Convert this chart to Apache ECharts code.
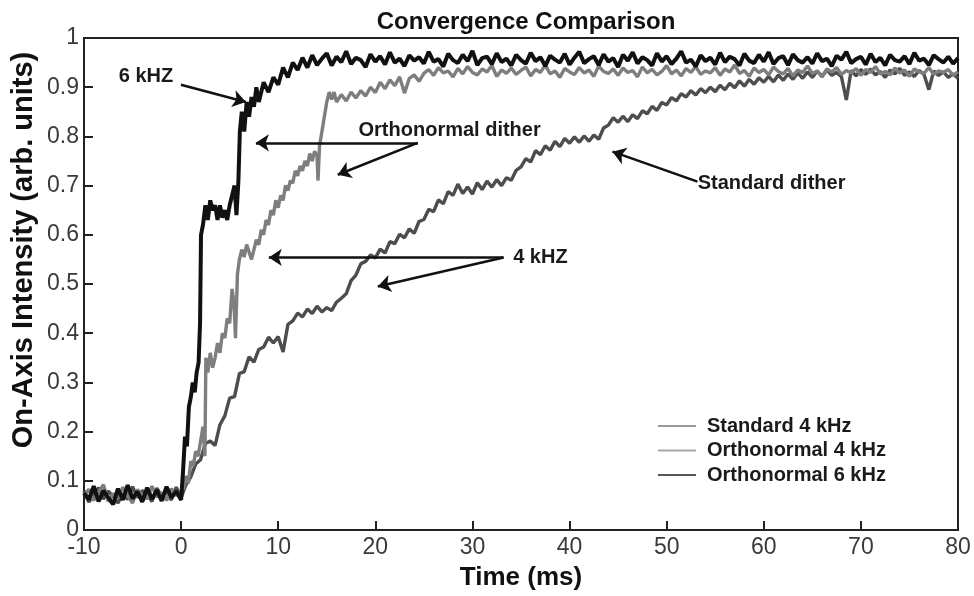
<!DOCTYPE html>
<html><head><meta charset="utf-8">
<script src="https://cdn.jsdelivr.net/npm/echarts@6/dist/echarts.min.js"></script>
<style>html,body{margin:0;padding:0;background:#fff}#c{width:974px;height:596px}</style>
</head><body><div id="c"></div>
<script>
// ---- data ----
const seriesNames = ['Standard 4 kHz', 'Orthonormal 4 kHz', 'Orthonormal 6 kHz'];
const xMin = -10, xMax = 80, xStep = 10;
const yMin = 0, yMax = 1, yStep = 0.1;

// Orthonormal 6 kHz: irregular early part [t, v]
const ortho6Early = [[-10,.075],[-9.5,.062],[-9,.089],[-8.5,.058],[-8,.080],[-7.5,.066],[-7,.052],[-6.5,.084],[-6,.061],[-5.5,.091],[-5,.064],[-4.5,.078],[-4,.057],[-3.5,.086],[-3,.063],[-2.5,.081],[-2,.059],[-1.5,.088],[-1,.066],[-0.5,.079],[0,.061],
[0.2,.12],[0.4,.19],[0.6,.17],[0.8,.25],[1.0,.27],[1.2,.30],[1.4,.28],[1.6,.32],[1.8,.34],[1.95,.42],[2.05,.60],[2.25,.62],[2.5,.66],[2.75,.63],[3.0,.67],[3.25,.65],[3.5,.66],[3.75,.63],[4.0,.66],[4.25,.635],[4.5,.65],[4.75,.63],[5.0,.66],[5.25,.68],[5.5,.70],[5.7,.64],[5.9,.71],[6.05,.81],[6.25,.85],[6.5,.81],[6.75,.87],[7.0,.84],[7.25,.88],[7.5,.86],[7.75,.90],[8.0,.87],[8.5,.91],[9.0,.89],[9.5,.92],[10,.905],[10.5,.94],[11,.92],[11.5,.95],[12,.935],[12.5,.96],[13,.94],[13.5,.965],[14,.945]];
// Orthonormal 6 kHz: values every 0.5 ms from 14.5 to 80
const ortho6LateStart = 14.5;
const ortho6Late = [.958,.969,.944,.962,.951,.973,.947,.960,.955,.941,.967,.952,.963,.946,.971,.950,.958,.943,.965,.954,
.961,.948,.972,.952,.957,.942,.968,.955,.949,.966,.953,.974,.945,.959,.962,.947,.969,.951,.958,.944,
.966,.955,.948,.970,.953,.961,.943,.964,.956,.950,.968,.946,.960,.972,.949,.957,.963,.945,.967,.952,
.959,.941,.966,.954,.971,.948,.961,.955,.944,.969,.952,.963,.947,.958,.973,.950,.956,.942,.965,.953,
.960,.946,.970,.951,.962,.957,.944,.968,.954,.949,.966,.952,.971,.947,.959,.963,.945,.967,.955,.950,
.961,.948,.969,.953,.958,.943,.964,.956,.972,.949,.957,.962,.946,.968,.951,.960,.944,.966,.955,.952,
.963,.947,.970,.954,.958,.945,.965,.957,.950,.962,.948,.959];

// Orthonormal 4 kHz
const ortho4Early = [[-10,.068],[-9.5,.083],[-9,.060],[-8.5,.077],[-8,.092],[-7.5,.058],[-7,.074],[-6.5,.065],[-6,.087],[-5.5,.069],[-5,.055],[-4.5,.082],[-4,.071],[-3.5,.063],[-3,.089],[-2.5,.067],[-2,.076],[-1.5,.060],[-1,.084],[-0.5,.070],[0,.078],
[0.25,.085],[0.5,.11],[0.75,.095],[1.0,.14],[1.25,.13],[1.5,.16],[1.75,.15],[2.0,.18],[2.25,.21],[2.45,.15],[2.55,.35],[2.75,.32],[3.0,.36],[3.25,.33],[3.5,.35],[3.75,.38],[4.0,.36],[4.25,.40],[4.5,.39],[4.75,.43],[5.0,.42],[5.25,.49],[5.45,.46],[5.6,.39],[5.8,.52],[6.0,.55],[6.25,.57],[6.5,.555],[6.75,.58],[7.0,.565],[7.25,.55],[7.5,.57],[7.75,.59],[8.0,.58],[8.25,.61],[8.5,.60],[8.75,.63],[9.0,.62],[9.25,.65],[9.5,.64],[9.75,.67],[10,.655],[10.25,.68],[10.5,.67],[10.75,.70],[11,.69],[11.25,.71],[11.5,.705],[11.75,.73],[12,.72],[12.25,.74],[12.5,.73],[12.75,.75],[13,.74],[13.25,.765],[13.5,.75],[13.75,.77],[14,.76],[14.1,.71],[14.25,.78],[14.5,.81],[14.75,.84],[15,.87],[15.25,.89],[15.5,.875],[15.75,.89],[16,.87]];
const ortho4LateStart = 16.5;
const ortho4Late = [.885,.872,.890,.878,.893,.882,.900,.889,
.910,.897,.915,.903,.921,.888,.918,.925,.912,.928,
.936,.924,.940,.929,.933,.921,.938,.927,.942,.930,
.925,.937,.931,.944,.922,.935,.928,.939,.926,.934,
.941,.923,.936,.930,.945,.927,.933,.920,.938,.931,
.926,.940,.929,.935,.922,.943,.932,.928,.937,.924,
.939,.930,.934,.921,.941,.929,.936,.925,.932,.944,
.927,.935,.923,.938,.930,.942,.926,.933,.929,.940,
.924,.937,.931,.945,.928,.934,.922,.939,.930,.936,
.925,.941,.932,.927,.938,.923,.935,.930,.943,.928,
.933,.921,.937,.931,.940,.926,.934,.929,.938,.924,
.936,.930,.942,.927,.932,.925,.939,.929,.935,.922,
.937,.931,.928,.940,.926,.933,.930,.936,.924,.931];

// Standard 4 kHz
const standardEarly = [[-10,.080],[-9.5,.057],[-9,.071],[-8.5,.086],[-8,.063],[-7.5,.079],[-7,.068],[-6.5,.055],[-6,.074],[-5.5,.062],[-5,.088],[-4.5,.066],[-4,.080],[-3.5,.072],[-3,.058],[-2.5,.085],[-2,.069],[-1.5,.077],[-1,.061],[-0.5,.087],[0,.066]];
const standardLateStart = 0.5;
const standardLate = [.092,.108,.134,.143,.176,.181,.172,.214,.232,.268,
.271,.318,.322,.352,.341,.367,.372,.392,.380,.393,
.362,.418,.425,.441,.433,.449,.440,.455,.443,.452,
.446,.463,.471,.480,.507,.518,.541,.546,.559,.553,
.571,.563,.586,.582,.601,.594,.612,.603,.627,.631,
.652,.647,.671,.663,.688,.680,.703,.684,.697,.683,
.706,.692,.709,.697,.712,.700,.716,.711,.731,.738,
.755,.748,.771,.763,.781,.772,.790,.779,.796,.786,
.799,.788,.801,.790,.803,.794,.817,.823,.838,.829,
.841,.830,.844,.836,.852,.846,.861,.853,.869,.864,
.879,.872,.887,.880,.893,.884,.897,.889,.900,.891,
.904,.895,.908,.899,.913,.902,.916,.906,.919,.910,
.922,.911,.925,.914,.927,.916,.929,.918,.931,.920,
.933,.922,.935,.924,.930,.921,.874,.934,.923,.936,
.926,.937,.925,.932,.920,.935,.927,.938,.924,.931,
.922,.934,.926,.895,.933,.924,.931,.920,.927,.918];
const sampleStep = 0.5;

// annotations: arrows [from, to] and labels [text, t, v]
const arrows = [
  [[-0.02,0.905],[6.67,0.870]],
  [[24.36,0.787],[7.70,0.787]],
  [[24.36,0.787],[16.13,0.722]],
  [[53.17,0.708],[44.42,0.769]],
  [[33.2,0.554],[9.03,0.554]],
  [[33.2,0.554],[20.25,0.495]]
];
const notes = [
  ['6 kHZ', -3.62, 0.921],
  ['Orthonormal dither', 27.65, 0.813],
  ['Standard dither', 60.8, 0.704],
  ['4 kHZ', 37.0, 0.554]
];

function build(early, start, late) {
  const out = early.slice();
  late.forEach((v, i) => out.push([+(start + i * sampleStep).toFixed(2), v]));
  return out;
}
const stdData = build(standardEarly, standardLateStart, standardLate);
const o4Data = build(ortho4Early, ortho4LateStart, ortho4Late);
const o6Data = build(ortho6Early, ortho6LateStart, ortho6Late);

const chart = echarts.init(document.getElementById('c'), null, {renderer: 'canvas'});
const FONT = '"Liberation Sans", Arial, Helvetica, sans-serif';
chart.setOption({
  animation: false,
  backgroundColor: '#fff',
  textStyle: {fontFamily: FONT},
  title: {
    text: 'Convergence Comparison', left: 521, top: 5, textAlign: 'center',
    textStyle: {fontFamily: FONT, fontSize: 24, fontWeight: 'bold', color: '#111'}
  },
  grid: {left: 84, right: 16, top: 38, bottom: 65, show: true, borderColor: '#222', borderWidth: 2},
  legend: {
    orient: 'vertical', left: 658, top: 416, padding: 0, icon: 'rect',
    itemWidth: 38, itemHeight: 2, itemGap: 4.5,
    textStyle: {fontFamily: FONT, fontSize: 20, fontWeight: 'bold', color: '#1a1a1a', padding: [0,0,0,6], lineHeight: 20},
    data: [
      {name: seriesNames[0], itemStyle: {color: '#9a9a9a'}},
      {name: seriesNames[1], itemStyle: {color: '#a8a8a8'}},
      {name: seriesNames[2], itemStyle: {color: '#555'}}
    ]
  },
  xAxis: {
    type: 'value', min: xMin, max: xMax, interval: xStep,
    name: 'Time (ms)', nameLocation: 'middle', nameGap: 35,
    nameTextStyle: {fontFamily: FONT, fontSize: 26, fontWeight: 'bold', color: '#111'},
    axisLine: {onZero: false, lineStyle: {color: '#222', width: 2}},
    axisTick: {inside: true, length: 9, lineStyle: {color: '#222', width: 2}},
    axisLabel: {fontFamily: FONT, fontSize: 23, color: '#3a3a3a', margin: 6},
    splitLine: {show: false}
  },
  yAxis: {
    type: 'value', min: yMin, max: yMax, interval: yStep,
    axisLine: {show: true, onZero: false, lineStyle: {color: '#222', width: 2}},
    axisTick: {show: true, inside: true, length: 9, lineStyle: {color: '#222', width: 2}},
    axisLabel: {fontFamily: FONT, fontSize: 23, color: '#3a3a3a', margin: 5},
    splitLine: {show: false}
  },
  graphic: [{
    type: 'text', x: 24, y: 250, rotation: Math.PI / 2,
    style: {text: 'On-Axis Intensity (arb. units)', fontFamily: FONT, fontSize: 29, fontWeight: 'bold',
      fill: '#111', textAlign: 'center', textVerticalAlign: 'middle'}
  }],
  series: [
    {name: seriesNames[0], type: 'line', data: stdData, symbol: 'none', z: 2,
      itemStyle: {color: '#4d4d4d'}, lineStyle: {color: '#4d4d4d', width: 3.4}},
    {name: seriesNames[1], type: 'line', data: o4Data, symbol: 'none', z: 3,
      itemStyle: {color: '#7e7e7e'}, lineStyle: {color: '#7e7e7e', width: 3.4}},
    {name: seriesNames[2], type: 'line', data: o6Data, symbol: 'none', z: 4,
      itemStyle: {color: '#111'}, lineStyle: {color: '#111', width: 4}},
    {name: 'annotations', type: 'line', data: [], z: 5, silent: true,
      markLine: {
        silent: true, symbol: ['none', 'arrow'], symbolSize: 13, animation: false,
        label: {show: false}, lineStyle: {color: '#111', width: 2.5, type: 'solid'},
        emphasis: {disabled: true},
        data: arrows.map(a => [{coord: a[0]}, {coord: a[1]}])
      },
      markPoint: {
        silent: true, animation: false,
        data: notes.map(n => ({
          coord: [n[1], n[2]], symbol: 'circle', symbolSize: 0,
          label: {show: true, position: 'inside', formatter: n[0], fontFamily: FONT,
            fontSize: 20, fontWeight: 'bold', color: '#1a1a1a'}
        }))
      }
    }
  ]
});
</script></body></html>
